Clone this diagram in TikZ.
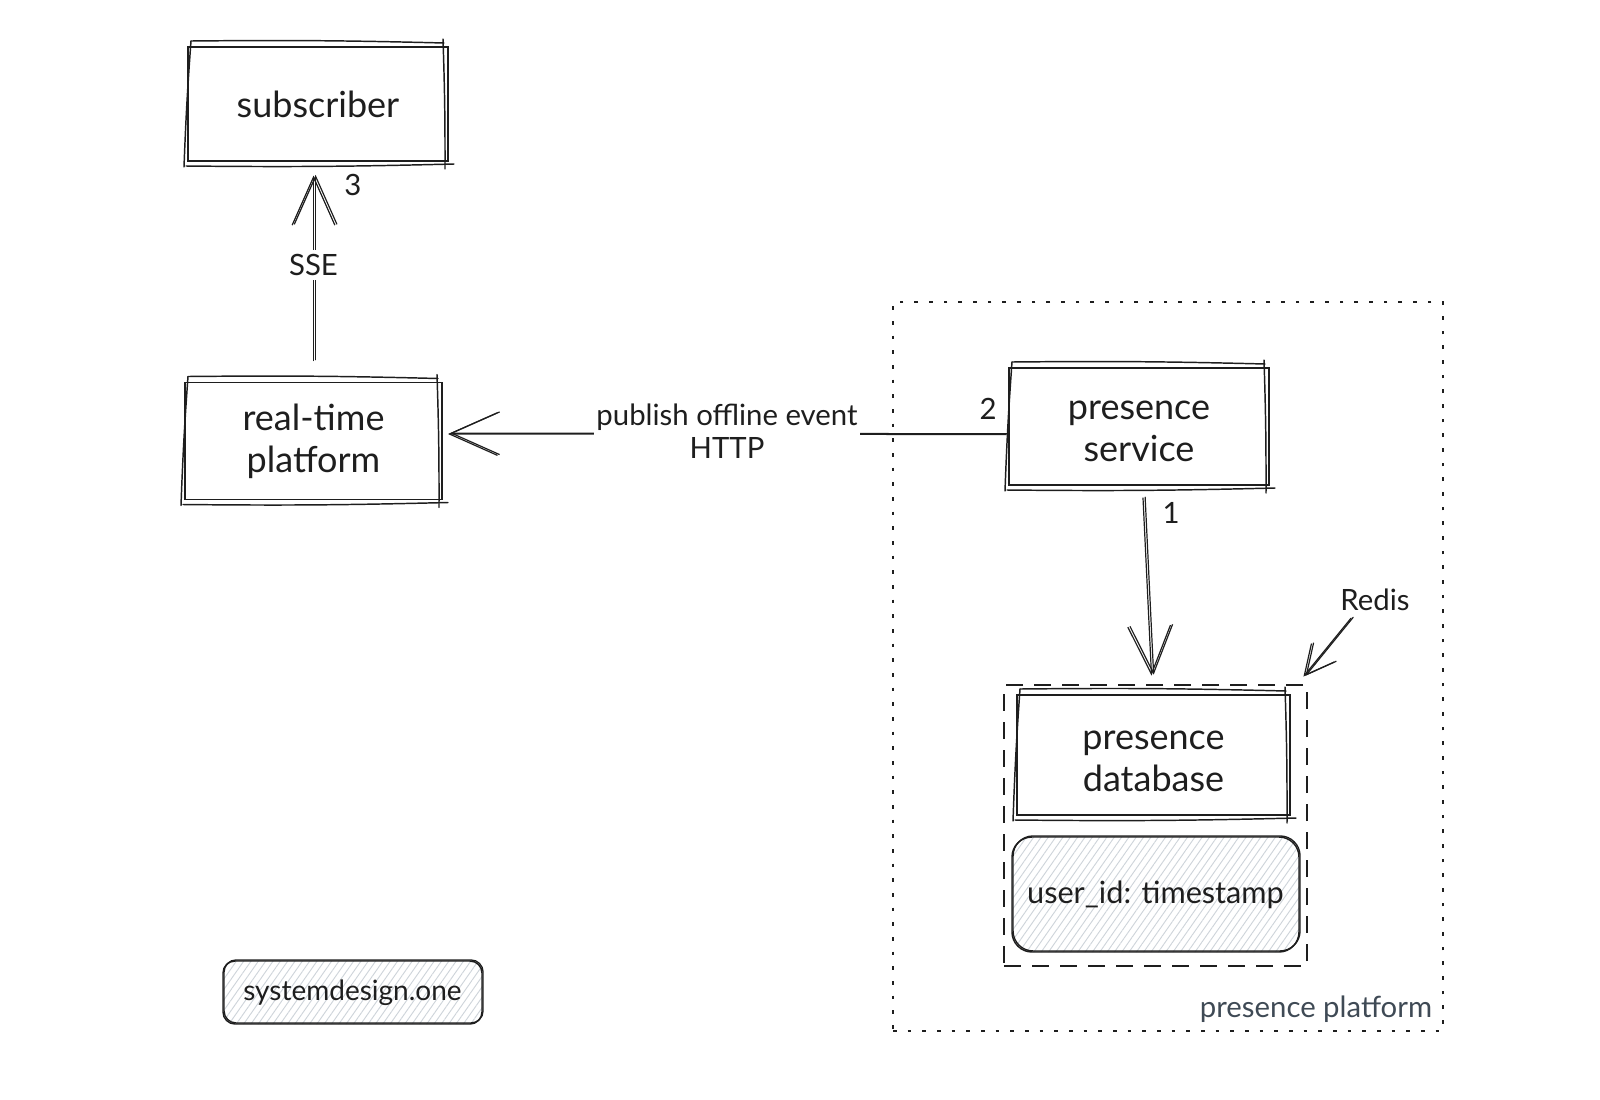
\documentclass[tikz,border=0pt]{standalone}
\usepackage{fontspec}
\setmainfont{Lato}
\usetikzlibrary{calc,arrows.meta,patterns.meta}
\definecolor{ink}{HTML}{1E1E1E}
\definecolor{slate}{HTML}{3F4A55}
\definecolor{hatch}{HTML}{CED4DA}
\newcommand{\boxfont}{\fontsize{27}{31.5}\selectfont}
\newcommand{\labelfont}{\fontsize{22}{24.6}\selectfont}
\tikzset{
  rough/.style={draw=ink, line width=1.1pt, line cap=round},
  box/.style={draw=ink, line width=1.1pt, inner sep=0pt, outer sep=0pt,
    align=center, text=ink, font=\boxfont},
  hatched/.style={box, rounded corners=15pt,
    pattern={Lines[angle=55, distance=4.5pt, line width=.7pt]}, pattern color=hatch,
    postaction={draw=ink, line width=1pt, transform canvas={xshift=.8pt, yshift=.8pt}}},
  surround dashed/.style={draw=ink, line width=2.2pt, inner sep=0pt, dash pattern=on 12.5pt off 8.5pt},
  surround dotted/.style={draw=ink, line width=1.8pt, inner sep=0pt, dash pattern=on 2.8pt off 8.2pt},
  txt/.style={text=ink, font=\labelfont, inner sep=0pt},
  conn/.style={draw=ink, line width=.9pt, line cap=round,
    -{Straight Barb[length=36pt, width=32pt, line width=.9pt]},
    postaction={draw=ink, line width=.9pt, transform canvas={xshift=1.6pt, yshift=.6pt}}},
}
% second pencil stroke round a box, overshooting its corners
\newcommand{\roughbox}[1]{
  \draw[rough] ($(#1.north west)+(3,-6)$) to[bend left=1] ($(#1.north east)+(-4,-4)$);
  \draw[rough] ($(#1.north east)+(-5,-8)$) to[bend left=1] ($(#1.south east)+(-3,8)$);
  \draw[rough] ($(#1.south east)+(6,3)$) to[bend left=1] ($(#1.south west)+(-2,5)$);
  \draw[rough] ($(#1.south west)+(-4,6)$) to[bend left=1] ($(#1.north west)+(3,-6)$);
}
\begin{document}
\begin{tikzpicture}[x=.75pt, y=-.75pt]
  \useasboundingbox (0,0) rectangle (1600,1100);

  \node (platform) [surround dotted, minimum width=412.5pt, minimum height=546.75pt] at (1168,666.5) {};
  \node (store) [surround dashed, minimum width=227.25pt, minimum height=210.75pt] at (1155.5,825.5) {};

  \node (subscriber) [box, minimum width=195pt, minimum height=85.5pt] at (318,104) {subscriber};
  \node (realtime) [box, minimum width=192.75pt, minimum height=87.75pt] at (313.5,441) {real-time\\platform};
  \node (service) [box, minimum width=195pt, minimum height=87.75pt] at (1139,426.5) {\rule{0pt}{21pt}presence\\service};
  \node (database) [box, minimum width=204.75pt, minimum height=90pt] at (1153.5,755) {\rule{0pt}{24pt}presence\\database};
  \node (state) [hatched, minimum width=215.25pt, minimum height=86.25pt] at (1155.5,894.5) {\fontsize{23}{26}\selectfont user\_id: timestamp};
  \node (logo) [hatched, rounded corners=9pt, minimum width=194.25pt, minimum height=47.25pt] at (352.5,992.5) {\fontsize{21}{24}\selectfont systemdesign.one};

  \roughbox{subscriber}
  \roughbox{realtime}
  \roughbox{service}
  \roughbox{database}

  \node (three) [txt] at (353,185) {3};
  \node (two) [txt] at (988,409) {2};
  \node (one) [txt] at (1171,513) {1};
  \node (redis) [txt] at (1375,600) {Redis};
  \node (platform label) [txt, text=slate] at (1316,1009) {presence platform};

  \draw[conn, shorten <=16.5pt, shorten >=11pt] (realtime.north) -- node [txt, fill=white, inner sep=3pt, pos=.53] {SSE} (realtime.north |- subscriber.south);
  \draw[conn] ($(service.west)+(-3,8)$) -- node [txt, fill=white, align=center, inner sep=2pt, yshift=2pt] {publish offline event\\HTTP} ($(realtime.east)+(6,-7)$);
  \draw[conn] ($(service.south)+(4,13)$) -- ($(store.north)+(-4,-8)$);
  \draw[conn, -{Straight Barb[length=22pt, width=22pt, line width=.9pt]}] ($(redis.south)+(-24,7)$) -- ($(store.north east)+(-5,-7)$);
\end{tikzpicture}
\end{document}
